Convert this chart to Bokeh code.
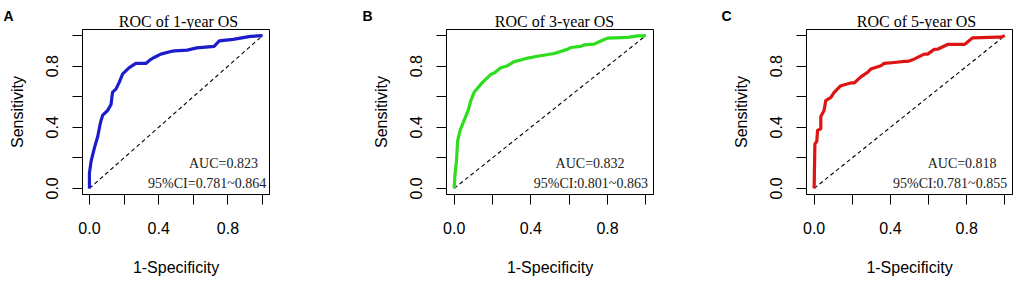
from bokeh.plotting import figure
from bokeh.layouts import row, column
from bokeh.models import FixedTicker, NumeralTickFormatter, Label, Range1d
from bokeh.core.properties import value
from bokeh.embed import file_html
from bokeh.resources import INLINE

# ---- data ----
fpr_1y = [0, 0.0, 0.01, 0.03, 0.048, 0.06, 0.067, 0.077, 0.105, 0.125, 0.13, 0.134, 0.153, 0.172,
          0.192, 0.23, 0.268, 0.326, 0.355, 0.374, 0.412, 0.47, 0.49, 0.565, 0.62, 0.72, 0.75, 0.83, 0.93, 1.0]
tpr_1y = [0, 0.10, 0.18, 0.27, 0.34, 0.41, 0.445, 0.48, 0.51, 0.55, 0.60, 0.63, 0.65, 0.694,
          0.749, 0.79, 0.818, 0.818, 0.845, 0.857, 0.879, 0.896, 0.90, 0.905, 0.92, 0.93, 0.965, 0.975, 0.995, 1.0]

fpr_3y = [0, 0.005, 0.012, 0.018, 0.031, 0.052, 0.073, 0.087, 0.104, 0.148, 0.19, 0.209, 0.243, 0.279,
          0.313, 0.348, 0.383, 0.435, 0.45, 0.522, 0.59, 0.609, 0.66, 0.678, 0.73, 0.748, 0.783, 0.80,
          0.905, 0.957, 0.974, 1.0]
tpr_3y = [0, 0.10, 0.18, 0.31, 0.38, 0.445, 0.51, 0.575, 0.629, 0.694, 0.745, 0.755, 0.79, 0.803,
          0.83, 0.84, 0.853, 0.865, 0.868, 0.883, 0.91, 0.922, 0.93, 0.939, 0.944, 0.955, 0.975, 0.983,
          0.988, 0.998, 0.998, 1.0]

fpr_5y = [0, 0.004, 0.014, 0.018, 0.035, 0.035, 0.052, 0.061, 0.088, 0.105, 0.14, 0.192, 0.21, 0.245,
          0.28, 0.297, 0.35, 0.367, 0.42, 0.472, 0.49, 0.524, 0.577, 0.595, 0.63, 0.647, 0.70, 0.787,
          0.795, 0.83, 0.962, 0.98, 1.0]
tpr_5y = [0, 0.29, 0.31, 0.38, 0.39, 0.47, 0.51, 0.575, 0.596, 0.629, 0.672, 0.69, 0.69, 0.73,
          0.759, 0.781, 0.803, 0.818, 0.824, 0.831, 0.831, 0.846, 0.879, 0.879, 0.91, 0.911, 0.942, 0.942,
          0.948, 0.985, 0.99, 0.99, 1.0]

panel_letters = ["A", "B", "C"]
titles = ["ROC of 1-year OS", "ROC of 3-year OS", "ROC of 5-year OS"]
auc_texts = ["AUC=0.823", "AUC=0.832", "AUC=0.818"]
ci_texts = ["95%CI=0.781~0.864", "95%CI:0.801~0.863", "95%CI:0.781~0.855"]
colors = ["#1c1ccc", "#2edd1e", "#dd1414"]
tick_vals = [0.0, 0.4, 0.8]
minor_vals = [0.2, 0.6, 1.0]
diag = [0.0, 1.0]

# ---- layout (style) ----
W, H, TOP = 1021, 282, 29
fig_w = [340, 340, 341]
border_l = [82, 106, 126]
border_r = [71, 27, 9]
title_px = [178, 554, 916]      # title centres in the header strip (pixels)
letter_px = [3, 362, 721]       # panel-letter left edges in the header strip (pixels)
auc_x = [0.774, 0.709, 0.776]
ci_x = [0.68, 0.713, 0.713]

curves = [(fpr_1y, tpr_1y), (fpr_3y, tpr_3y), (fpr_5y, tpr_5y)]

SANS = "Liberation Sans"
SERIF = "Liberation Serif"

# header strip holding panel letters and titles
head = figure(width=W, height=TOP, output_backend="svg", toolbar_location=None,
              x_range=Range1d(0, W), y_range=Range1d(TOP, 0),
              min_border=0, title=None)
head.axis.visible = False
head.grid.visible = False
head.outline_line_color = None
head.background_fill_color = "white"
head.border_fill_color = "white"
head.text(x=title_px, y=[21, 21, 21], text=titles, text_font=value(SERIF),
          text_font_size="16px", text_align="center", text_baseline="alphabetic",
          text_color="black")
head.text(x=letter_px, y=[15, 15, 15], text=panel_letters, text_font=value(SANS),
          text_font_size="14px", text_font_style="bold", text_align="left",
          text_baseline="alphabetic", text_color="black")

figs = []
for i in range(3):
    p = figure(width=fig_w[i], height=H - TOP, output_backend="svg", toolbar_location=None,
               x_range=Range1d(-0.04, 1.04), y_range=Range1d(-0.04, 1.04),
               min_border_left=border_l[i], min_border_right=border_r[i],
               min_border_top=0, min_border_bottom=88, title=None)
    p.grid.visible = False
    p.outline_line_color = "black"
    p.outline_line_width = 1
    p.background_fill_color = "white"
    p.border_fill_color = "white"

    for ax, lab in ((p.xaxis[0], "1-Specificity"), (p.yaxis[0], "Sensitivity")):
        ax.ticker = FixedTicker(ticks=tick_vals, minor_ticks=minor_vals)
        ax.formatter = NumeralTickFormatter(format="0.0")
        ax.axis_label = lab
        ax.axis_label_text_font = SANS
        ax.axis_label_text_font_size = "16px"
        ax.axis_label_text_font_style = "normal"
        ax.axis_label_text_color = "black"
        ax.major_label_text_font = SANS
        ax.major_label_text_font_size = "16px"
        ax.major_label_text_color = "black"
        ax.major_tick_in = 0
        ax.major_tick_out = 10
        ax.minor_tick_in = 0
        ax.minor_tick_out = 10
        ax.major_tick_line_color = "black"
        ax.minor_tick_line_color = "black"
        ax.axis_line_color = "black"
    p.xaxis.major_label_standoff = 17
    p.xaxis.axis_label_standoff = 22
    p.yaxis.major_label_orientation = "vertical"
    p.yaxis.major_label_standoff = 14
    p.yaxis.axis_label_standoff = 18

    p.line(diag, diag, line_color="black", line_width=1.1, line_dash="4 3")
    fx, ty = curves[i]
    p.line(fx, ty, line_color=colors[i], line_width=3.2, line_join="round")

    p.add_layout(Label(x=auc_x[i], y=0.165, text=auc_texts[i], text_font=SERIF,
                       text_font_size="14px", text_align="center", text_baseline="middle",
                       text_color="#222222"))
    p.add_layout(Label(x=ci_x[i], y=0.035, text=ci_texts[i], text_font=SERIF,
                       text_font_size="14px", text_align="center", text_baseline="middle",
                       text_color="#222222"))
    figs.append(p)

layout = column(head, row(*figs, spacing=0), spacing=0)
open("out.html", "w").write(file_html(layout, INLINE))
